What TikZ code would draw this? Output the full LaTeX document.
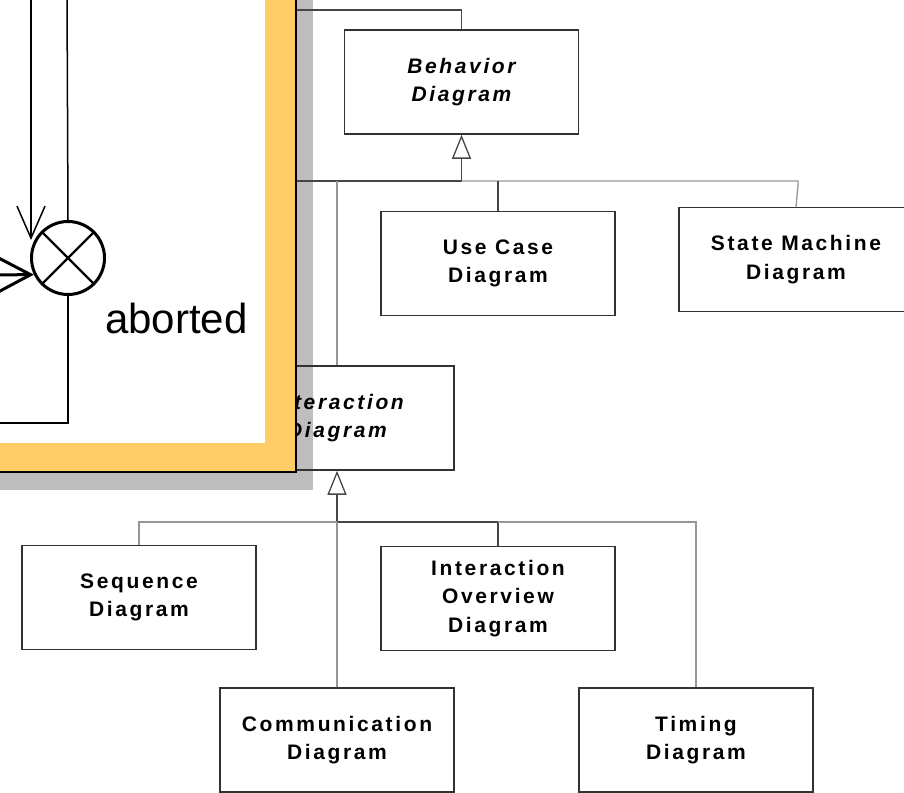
\documentclass[tikz,border=0pt]{standalone}
\usepackage{fontspec}
\setmainfont{Liberation Sans}
\newfontfamily\boxfont[LetterSpace=12.5]{Liberation Sans}
\usetikzlibrary{arrows.meta}

\definecolor{panelorange}{RGB}{255,204,102}
\definecolor{shadowgray}{RGB}{190,190,190}
\definecolor{linedark}{RGB}{70,70,70}
\definecolor{linelight}{RGB}{150,150,150}
\definecolor{boxline}{RGB}{50,50,50}

\tikzset{
  diagbox/.style={draw=boxline, line width=1.5pt, minimum width=234pt,
    minimum height=104pt, align=center, inner sep=0pt,
    font=\boxfont\bfseries\fontsize{21}{28.5}\selectfont},
  abstractbox/.style={diagbox,
    font=\boxfont\bfseries\itshape\fontsize{21}{28.5}\selectfont},
  conn/.style={draw=linedark, line width=1.3pt},
  connlight/.style={draw=linelight, line width=1.3pt},
  gen/.style={conn, -{Triangle[open, length=24pt, width=19pt]}},
  panelline/.style={draw=black, line width=1.5pt},
  panelthick/.style={draw=black, line width=3pt},
}

\begin{document}
\begin{tikzpicture}[x=1pt, y=-1pt]
  \useasboundingbox (0,0) rectangle (904,792);
  \clip (0,0) rectangle (904,792);

  % drop shadow of the front panel
  \fill[shadowgray] (-20,-20) rectangle (313,490);

  % diagram taxonomy boxes
  \node[abstractbox] (beh)    at (461.5,82)  {Behavior\\Diagram};
  \node[diagbox]     (usecase) at (498,263.5) {Use Case\\Diagram};
  \node[diagbox]     (sm)     at (796,259.5) {State Machine\\Diagram};
  \node[abstractbox] (inter)  at (337,418)   {Interaction\\Diagram};
  \node[diagbox]     (seq)    at (139,597.5) {Sequence\\Diagram};
  \node[diagbox]     (ov)     at (498,598.5) {Interaction\\Overview\\Diagram};
  \node[diagbox]     (comm)   at (337,740)   {Communication\\Diagram};
  \node[diagbox]     (timing) at (696,740)   {Timing\\Diagram};

  % junction points of the generalization trees
  \coordinate (topend) at (280,10);
  \coordinate (bl) at (280,181);
  \coordinate (bj) at (461.5,181);
  \coordinate (smj) at (798,181);
  \coordinate (ij) at (337,522);

  % connectors around Behavior Diagram
  \draw[conn] (beh.north) |- (topend);
  \draw[conn] (bl) -- (bj);
  \draw[gen] (bj) -- (beh.south);
  \draw[connlight] (bj) -- (smj) -- ++(0,4) -- (sm.north);
  \draw[conn] (usecase.north) -- (usecase.north |- bj);
  \draw[connlight] (inter.north) -- (inter.north |- bj);

  % connectors around Interaction Diagram
  \draw[gen] (ij) -- (inter.south);
  \draw[connlight] (seq.north) |- (ij);
  \draw[conn] (ij) -| (ov.north);
  \draw[connlight] (ov.north |- ij) -| (timing.north);
  \draw[connlight] (comm.north) -- (ij);

  % front panel with orange frame
  \draw[fill=panelorange, line width=2pt] (-20,-20) rectangle (296,472);
  \fill[white] (-20,-20) rectangle (265,443);

  % final "aborted" pseudostate
  \node[circle, panelthick, minimum size=73pt, inner sep=0pt] (abrt) at (68,258) {};
  \draw[line width=2.4pt] (abrt.north west) -- (abrt.south east)
                          (abrt.north east) -- (abrt.south west);

  \coordinate (inA) at (31,-5);
  \coordinate (tipA) at (31,240);
  \coordinate (inB) at (-30,275);
  \coordinate (outTop) at (67,-5);
  \coordinate (outLeft) at (-5,423);

  \draw[panelline, -{Straight Barb[length=32pt, width=28pt]}] (inA) -- (tipA);
  \draw[panelthick, -{Straight Barb[length=36pt, width=38pt]}] (inB) -- (abrt.206);
  \draw[panelline] (abrt.north) -- (outTop);
  \draw[panelline] (abrt.south) |- (outLeft);

  \node[anchor=base west, inner sep=0pt, font=\fontsize{42}{42}\selectfont]
    (lbl) at (105,333) {aborted};
\end{tikzpicture}
\end{document}
